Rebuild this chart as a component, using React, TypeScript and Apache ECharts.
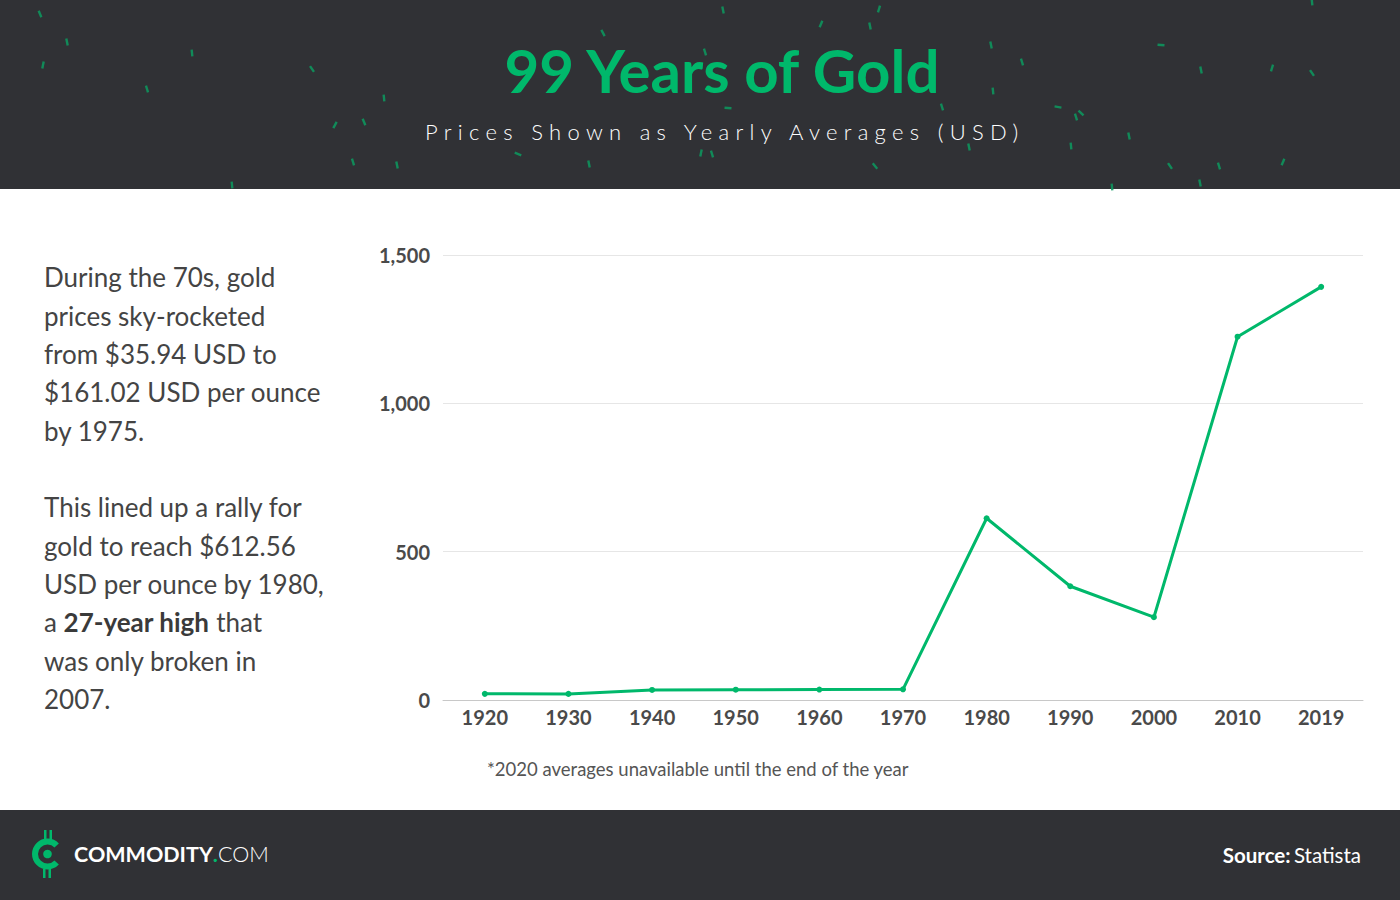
import React, { useEffect, useRef } from "react";
import * as echarts from "echarts";

const TITLE = "99 Years of Gold";
const SUBTITLE = "Prices Shown as Yearly Averages (USD)";
const years = ["1920", "1930", "1940", "1950", "1960", "1970", "1980", "1990", "2000", "2010", "2019"];
const prices = [20.68, 20.63, 33.85, 34.72, 35.27, 36.02, 612.56, 383.51, 279.11, 1224.53, 1392.6];
const yMin = 0;
const yMax = 1500;
const yInterval = 500;
const para1 = [
  "During the 70s, gold",
  "prices sky-rocketed",
  "from $35.94 USD to",
  "$161.02 USD per ounce",
  "by 1975.",
];
const para2 = [
  "This lined up a rally for",
  "gold to reach $612.56",
  "USD per ounce by 1980,",
  "a {b|27-year high} that",
  "was only broken in",
  "2007.",
];
const FOOTNOTE = "*2020 averages unavailable until the end of the year";

// decorative speckles in the header
const speckles: [number, number, number][] = [
  [723, 10, 0.2], [879, 9, -0.3], [1312, 2, 0.1], [40, 14, 0.4], [67, 42, 0.2],
  [192, 53, 0.1], [312, 69, 0.6], [43, 65, -0.2], [147, 89, 0.3], [384, 98, 0.1],
  [335, 125, -0.5], [364, 122, 0.4], [518, 154, 1.2], [353, 162, 0.3], [397, 165, 0.2],
  [232, 185, 0.1], [603, 33, 0.5], [705, 52, 0.3], [821, 24, -0.4], [870, 26, 0.2],
  [991, 45, 0.2], [1022, 62, 0.3], [1161, 45, 1.5], [1201, 70, 0.2], [1272, 68, -0.3],
  [1312, 73, 0.6], [993, 91, 0.1], [1058, 107, 1.4], [1076, 117, 0.3], [728, 108, 1.5],
  [712, 154, 0.3], [701, 153, -0.2], [969, 147, 0.2], [1071, 146, 0.1], [1129, 136, 0.2],
  [1170, 166, 0.6], [1219, 166, 0.3], [1283, 162, -0.4], [875, 166, 0.7], [1112, 187, 0.1],
  [589, 164, 0.2], [942, 107, 0.3], [1200, 183, 0.2], [1081, 113, 0.8],
];

const GREEN = "#00b86b";
const DARK = "#303135";
const FONT = "Lato, 'Open Sans', sans-serif";

export default function App() {
  const ref = useRef<HTMLDivElement>(null);
  useEffect(() => {
    document.body.style.margin = "0";
    const el = ref.current!;
    const chart = echarts.init(el, null, { renderer: "svg" });
    const graphics: any[] = [
      { type: "rect", shape: { x: 0, y: 0, width: 1400, height: 189 }, style: { fill: DARK }, silent: true, z: 0 },
      { type: "rect", shape: { x: 0, y: 810, width: 1400, height: 90 }, style: { fill: DARK }, silent: true, z: 0 },
      ...speckles.map(([x, y, r]) => ({
        type: "rect",
        x,
        y,
        rotation: r,
        shape: { x: -1.2, y: -3.5, width: 2.4, height: 7 },
        style: { fill: "#0c9a5f", opacity: 0.85 },
        silent: true,
        z: 1,
      })),
      {
        type: "text",
        x: 722,
        y: 70,
        style: { text: TITLE, fill: GREEN, fontSize: 60, fontWeight: "bold", fontFamily: FONT, align: "center", verticalAlign: "middle" },
        z: 2,
      },
      {
        type: "text",
        x: 425,
        y: 131,
        style: { text: SUBTITLE, fill: "#ffffff", fontSize: 22, fontWeight: 300, fontFamily: FONT, align: "left", verticalAlign: "middle" },
        z: 2,
      },
      {
        type: "text",
        x: 44,
        y: 258,
        style: {
          text: para1.join("\n"),
          fill: "#444444",
          fontSize: 26,
          fontFamily: FONT,
          lineHeight: 38.4,
          align: "left",
          verticalAlign: "top",
        },
      },
      {
        type: "text",
        x: 44,
        y: 488,
        style: {
          text: para2.join("\n"),
          fill: "#444444",
          fontSize: 26,
          fontFamily: FONT,
          lineHeight: 38.4,
          align: "left",
          verticalAlign: "top",
          rich: {
            b: { fontSize: 26, fontWeight: "bold", fontFamily: FONT, fill: "#3a3a3a", lineHeight: 38.4 },
          },
        },
      },
      {
        type: "text",
        x: 487,
        y: 769,
        style: { text: FOOTNOTE, fill: "#555555", fontSize: 18.5, fontFamily: FONT, align: "left", verticalAlign: "middle" },
      },
      // logo
      {
        type: "arc",
        shape: { cx: 47.5, cy: 854, r: 12.5, startAngle: 0.75, endAngle: Math.PI * 2 - 0.75, clockwise: true },
        style: { stroke: GREEN, lineWidth: 6, fill: null, lineCap: "butt" },
        z: 2,
      },
      { type: "circle", shape: { cx: 47.5, cy: 854, r: 4.3 }, style: { fill: GREEN }, z: 2 },
      { type: "rect", shape: { x: 44, y: 830, width: 2.5, height: 9 }, style: { fill: GREEN }, z: 2 },
      { type: "rect", shape: { x: 49.5, y: 830, width: 2.5, height: 9 }, style: { fill: GREEN }, z: 2 },
      { type: "rect", shape: { x: 43, y: 869, width: 2.5, height: 9 }, style: { fill: GREEN }, z: 2 },
      { type: "rect", shape: { x: 48.5, y: 869, width: 2.5, height: 9 }, style: { fill: GREEN }, z: 2 },
      {
        type: "text",
        x: 74,
        y: 854,
        style: {
          text: "{b|COMMODITY}{g|.}{l|COM}",
          verticalAlign: "middle",
          align: "left",
          rich: {
            b: { fontSize: 21.5, fontWeight: "bold", fontFamily: FONT, fill: "#ffffff" },
            g: { fontSize: 21.5, fontWeight: "bold", fontFamily: FONT, fill: GREEN },
            l: { fontSize: 21.5, fontWeight: 300, fontFamily: FONT, fill: "#ffffff" },
          },
        },
        z: 2,
      },
      {
        type: "text",
        x: 1361,
        y: 855,
        style: {
          text: "{b|Source:} {l|Statista}",
          verticalAlign: "middle",
          align: "right",
          rich: {
            b: { fontSize: 20.5, fontWeight: "bold", fontFamily: FONT, fill: "#ffffff" },
            l: { fontSize: 20.5, fontFamily: FONT, fill: "#ffffff" },
          },
        },
        z: 2,
      },
    ];

    chart.setOption({
      animation: false,
      backgroundColor: "#ffffff",
      grid: { left: 443, right: 37, top: 255, bottom: 200, containLabel: false },
      xAxis: {
        type: "category",
        data: years,
        boundaryGap: true,
        axisLine: { lineStyle: { color: "#c8c8c8", width: 1 } },
        axisTick: { show: false },
        axisLabel: { fontSize: 20, fontWeight: "bold", color: "#4a4a4a", fontFamily: FONT, margin: 7 },
      },
      yAxis: {
        type: "value",
        min: yMin,
        max: yMax,
        interval: yInterval,
        axisLine: { show: false },
        axisTick: { show: false },
        splitLine: { lineStyle: { color: "#e6e6e6", width: 1 } },
        axisLabel: {
          fontSize: 20,
          fontWeight: "bold",
          color: "#4a4a4a",
          fontFamily: FONT,
          margin: 13,
          verticalAlign: "middle",
          padding: [0, 0, 4, 0],
          formatter: (v: number) => v.toLocaleString("en-US"),
        },
      },
      series: [
        {
          type: "line",
          data: prices,
          symbol: "circle",
          symbolSize: 6,
          showSymbol: true,
          itemStyle: { color: GREEN },
          lineStyle: { color: GREEN, width: 3 },
          z: 3,
        },
      ],
      graphic: graphics,
    });

    const applySpacing = () => {
      el.querySelectorAll("text").forEach((t) => {
        if (t.textContent === SUBTITLE) t.setAttribute("letter-spacing", "6.3");
      });
    };
    applySpacing();
    const id = window.setTimeout(applySpacing, 50);

    return () => {
      window.clearTimeout(id);
      chart.dispose();
    };
  }, []);
  return <div ref={ref} style={{ width: 1400, height: 900 }} />;
}
